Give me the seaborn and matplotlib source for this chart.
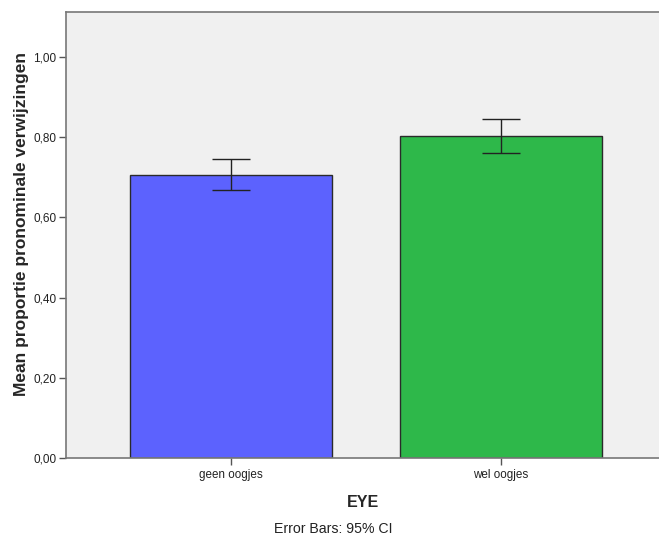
import matplotlib
matplotlib.use("Agg")
import matplotlib.pyplot as plt
import numpy as np
import pandas as pd
import seaborn as sns
from matplotlib.ticker import FuncFormatter

CATEGORIES = ["geen oogjes", "wel oogjes"]
MEANS = [0.706, 0.803]
CI_LOW = [0.668, 0.761]
CI_HIGH = [0.746, 0.845]
BAR_COLORS = ["#5c62fe", "#2eb84a"]

sns.set_style("white")
plt.rcParams["font.family"] = ["Liberation Sans", "DejaVu Sans"]

df = pd.DataFrame({"EYE": CATEGORIES, "mean": MEANS})

fig = plt.figure(figsize=(6.59, 5.38), dpi=100)
ax = fig.add_axes([66 / 659, 80 / 538, 593 / 659, 446 / 538])
ax.set_facecolor("#f0f0f0")

sns.barplot(
    data=df, x="EYE", y="mean", hue="EYE", palette=BAR_COLORS,
    errorbar=None, width=0.75, saturation=1, edgecolor="#2a2a2a",
    linewidth=1.0, legend=False, ax=ax,
)

x = np.arange(len(CATEGORIES))
means = np.array(MEANS)
yerr = np.array([means - np.array(CI_LOW), np.array(CI_HIGH) - means])
ax.errorbar(x, means, yerr=yerr, fmt="none", ecolor="#222222",
            elinewidth=1.0, capsize=14, capthick=1.0, zorder=5)

ax.set_xlim(-0.611, 1.585)
ax.set_ylim(0, 1.112)
ax.set_yticks([0, 0.2, 0.4, 0.6, 0.8, 1.0])
ax.yaxis.set_major_formatter(FuncFormatter(lambda v, p: f"{v:.2f}".replace(".", ",")))
ax.tick_params(axis="y", direction="out", length=5, width=1, color="#555555",
               labelsize=8.5, labelcolor="#222222", left=True, pad=2)
ax.tick_params(axis="x", direction="out", length=5, width=1, color="#555555",
               labelsize=8.4, labelcolor="#222222", bottom=True, pad=3)

for side in ["left", "bottom", "top"]:
    ax.spines[side].set_visible(True)
    ax.spines[side].set_color("#777777")
    ax.spines[side].set_linewidth(1.2)
ax.spines["right"].set_visible(False)

ax.set_ylabel("Mean proportie pronominale verwijzingen", fontsize=12.5,
              fontweight="bold")
ax.yaxis.set_label_coords(-0.063, 0.525)
ax.set_xlabel("EYE", fontsize=11.5, fontweight="bold", labelpad=10)

fig.text(0.506, 9 / 538, "Error Bars: 95% CI", ha="center", va="center",
         fontsize=10.2, color="#222222")

fig.savefig("out.png", dpi=100)
